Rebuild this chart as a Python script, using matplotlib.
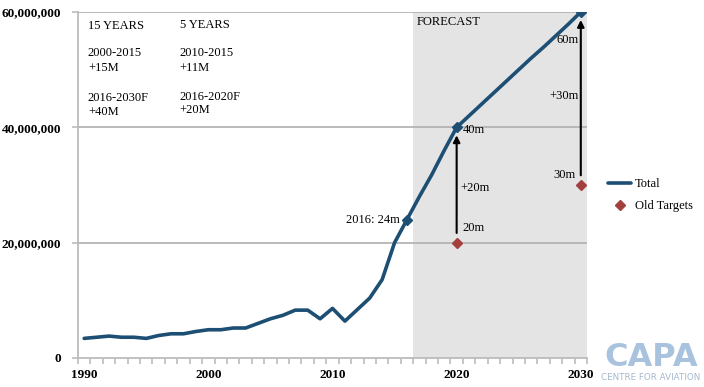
import matplotlib
matplotlib.use("Agg")
import matplotlib.pyplot as plt
import numpy as np

plt.rcParams["font.family"] = ["Liberation Serif", "DejaVu Serif"]

# ── data ─────────────────────────────────────────────────────────────────────
years = list(range(1990, 2031))
total = [3.4, 3.6, 3.8, 3.6, 3.6, 3.4, 3.9, 4.2, 4.2, 4.6,
         4.9, 4.9, 5.2, 5.2, 6.0, 6.8, 7.4, 8.3, 8.3, 6.8,
         8.6, 6.4, 8.4, 10.4, 13.6, 20.0, 24.0, 28.0, 31.8, 36.0,
         40.0, 42.0, 44.0, 46.0, 48.0, 50.0, 52.0, 53.9, 55.9, 57.9,
         60.0]
total = [v * 1e6 for v in total]
marker_years = [2016, 2020, 2030]
target_years = [2020, 2030]
target_values = [20e6, 30e6]
forecast_start = 2016.5
x_tick_years = [1990, 2000, 2010, 2020, 2030]
y_ticks = [0, 20e6, 40e6, 60e6]

LINE = "#1d4e74"
RED = "#a3403d"
GRID = "#b4b4b4"

fig = plt.figure(figsize=(7.04, 3.87), dpi=100)
ax = fig.add_axes([78 / 704, 1 - 358 / 387, (587 - 78) / 704, (358 - 12) / 387])

ax.set_xlim(1989.5, 2030.5)
ax.set_ylim(0, 60e6)

ax.axvspan(forecast_start, 2030.5, color="#e4e4e4", zorder=0, lw=0)
for y in y_ticks[1:]:
    ax.axhline(y, color=GRID, lw=1.3, zorder=1)

ax.plot(years, total, color=LINE, lw=2.6, solid_capstyle="round", zorder=3,
        label="Total")
mv = [total[years.index(y)] for y in marker_years]
ax.plot(marker_years, mv, ls="none", marker="D", ms=5, color=LINE, zorder=4)
ax.plot(target_years, target_values, ls="none", marker="D", ms=5, color=RED,
        zorder=4, label="Old Targets")

# arrows old target -> new
for yr, old in zip(target_years, target_values):
    new = total[years.index(yr)]
    ax.annotate("", xy=(yr, new - 0.9e6), xytext=(yr, old + 1.2e6),
                arrowprops=dict(arrowstyle="-|>", color="black", lw=1.5,
                                mutation_scale=10), zorder=5)

fs = 9
ax.text(2015.45, 24e6, "2016: 24m", ha="right", va="center", fontsize=fs)
ax.text(2020.5, 39.5e6, "40m", ha="left", va="center", fontsize=fs)
ax.text(2020.3, 29.5e6, "+20m", ha="left", va="center", fontsize=fs)
ax.text(2020.5, 22.5e6, "20m", ha="left", va="center", fontsize=fs)
ax.text(2029.8, 55.2e6, "60m", ha="right", va="center", fontsize=fs)
ax.text(2029.8, 45.4e6, "+30m", ha="right", va="center", fontsize=fs)
ax.text(2029.6, 31.8e6, "30m", ha="right", va="center", fontsize=fs)
ax.text(2016.8, 58.2e6, "FORECAST", ha="left", va="center", fontsize=fs)

# summary text block
left_x, right_x = 1990.3, 1997.7
ax.text(left_x, 57.6e6, "15 YEARS", fontsize=fs, va="center")
ax.text(right_x, 57.7e6, "5 YEARS", fontsize=fs, va="center")
ax.text(left_x, 52.9e6, "2000-2015", fontsize=fs, va="center")
ax.text(left_x, 50.3e6, "+15M", fontsize=fs, va="center")
ax.text(left_x, 45.1e6, "2016-2030F", fontsize=fs, va="center")
ax.text(left_x, 42.7e6, "+40M", fontsize=fs, va="center")
ax.text(right_x, 52.9e6, "2010-2015", fontsize=fs, va="center")
ax.text(right_x, 50.3e6, "+11M", fontsize=fs, va="center")
ax.text(right_x, 45.3e6, "2016-2020F", fontsize=fs, va="center")
ax.text(right_x, 43.0e6, "+20M", fontsize=fs, va="center")

# axes styling
for s in ["top", "right"]:
    ax.spines[s].set_visible(False)
for s in ["left", "bottom"]:
    ax.spines[s].set_color("#bcbcbc")
    ax.spines[s].set_linewidth(1.3)
ax.set_yticks(y_ticks)
ax.set_yticklabels([f"{int(v):,}" for v in y_ticks], fontweight="bold",
                   fontsize=9.5)
ax.set_xticks(np.arange(1989.5, 2031, 1.0))
ax.set_xticklabels([])
ax.set_xticks(x_tick_years, minor=True)
ax.set_xticklabels([str(y) for y in x_tick_years], minor=True,
                   fontweight="bold", fontsize=9.5)
ax.tick_params(axis="x", which="major", length=4, color="#bcbcbc", width=1.2,
               direction="out")
ax.tick_params(axis="x", which="minor", length=0, pad=8)
ax.tick_params(axis="y", length=4, color="#bcbcbc", width=1.2, pad=8)

leg = ax.legend(loc="center left", bbox_to_anchor=(1.02, 0.47), frameon=False,
                fontsize=9, handlelength=1.8, labelspacing=0.8,
                handletextpad=0.3)

# logo
fig.text(651 / 704, 1 - 357 / 387, "CAPA", ha="center", va="center",
         fontsize=23, fontweight="bold", color="#a9c3de",
         family="DejaVu Sans")
fig.text(651 / 704, 1 - 378 / 387, "CENTRE FOR AVIATION", ha="center",
         va="center", fontsize=6.3, color="#a6b9cc", family="DejaVu Sans")

fig.savefig("out.png", dpi=100)
